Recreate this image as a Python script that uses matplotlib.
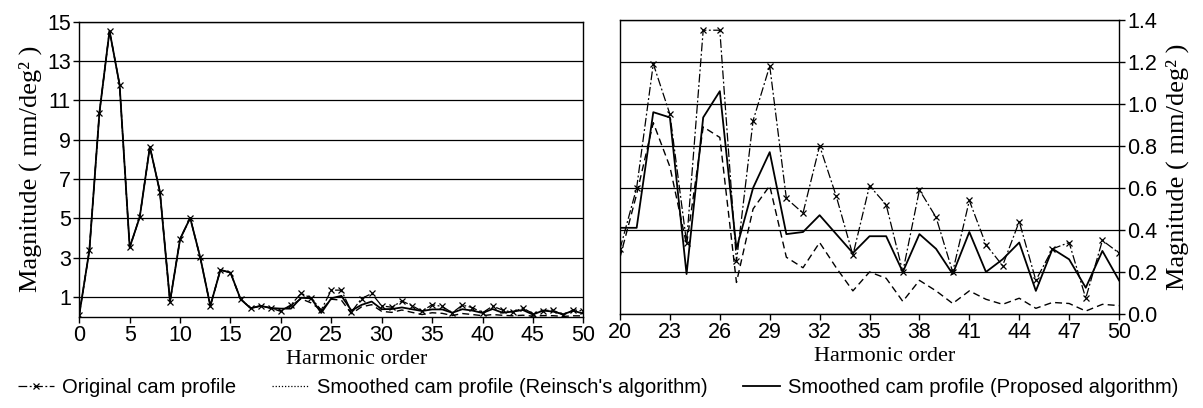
import matplotlib.pyplot as plt
from matplotlib.lines import Line2D

# harmonic orders and magnitudes (mm/deg^2)
harmonics = list(range(0, 51))

original = [0.10, 3.37, 10.38, 14.54, 11.79, 3.52, 5.07, 8.64, 6.35, 0.77,
            3.95, 5.02, 3.01, 0.55, 2.38, 2.24, 0.89, 0.43, 0.55, 0.44,
            0.31, 0.60, 1.19, 0.95, 0.34, 1.35, 1.35, 0.25, 0.92, 1.18,
            0.55, 0.48, 0.80, 0.56, 0.28, 0.61, 0.52, 0.20, 0.59, 0.46,
            0.20, 0.54, 0.33, 0.23, 0.44, 0.16, 0.31, 0.34, 0.075, 0.35,
            0.29]

reinsch = [0.10, 3.37, 10.38, 14.54, 11.79, 3.52, 5.07, 8.64, 6.35, 0.77,
           3.95, 5.02, 3.01, 0.55, 2.38, 2.24, 0.89, 0.43, 0.55, 0.44,
           0.27, 0.57, 0.91, 0.70, 0.33, 0.89, 0.84, 0.15, 0.50, 0.61,
           0.27, 0.22, 0.34, 0.22, 0.11, 0.20, 0.17, 0.06, 0.16, 0.11,
           0.05, 0.11, 0.07, 0.046, 0.075, 0.027, 0.055, 0.05, 0.014, 0.046,
           0.04]

proposed = [0.10, 3.37, 10.38, 14.54, 11.79, 3.52, 5.07, 8.64, 6.35, 0.77,
            3.95, 5.02, 3.01, 0.55, 2.38, 2.24, 0.89, 0.43, 0.55, 0.44,
            0.41, 0.41, 0.96, 0.935, 0.19, 0.935, 1.06, 0.31, 0.60, 0.77,
            0.38, 0.39, 0.47, 0.38, 0.29, 0.37, 0.37, 0.20, 0.38, 0.31,
            0.19, 0.39, 0.20, 0.26, 0.34, 0.11, 0.31, 0.26, 0.125, 0.30,
            0.16]

zoom_start = 20

left_yticks = [1, 3, 5, 7, 9, 11, 13, 15]
left_xticks = [0, 5, 10, 15, 20, 25, 30, 35, 40, 45, 50]
right_yticks = [0.0, 0.2, 0.4, 0.6, 0.8, 1.0, 1.2, 1.4]
right_xticks = [20, 23, 26, 29, 32, 35, 38, 41, 44, 47, 50]

labels = ['Original cam profile',
          "Smoothed cam profile (Reinsch's algorithm)",
          'Smoothed cam profile (Proposed algorithm)']

plt.rcParams['font.family'] = 'Liberation Sans'
serif = 'Liberation Serif'

orig_style = dict(color='black', lw=0.9, ls=(0, (7, 2, 1.5, 2)),
                  marker='x', ms=5, mew=0.9)
rein_style = dict(color='black', lw=1.0, ls=(0, (5, 3)))
prop_style = dict(color='black', lw=1.3, ls='-')

fig = plt.figure(figsize=(12.03, 4.08), dpi=100)
ax1 = fig.add_axes([0.0659, 0.2238, 0.4190, 0.7230])
ax2 = fig.add_axes([0.5154, 0.2304, 0.4148, 0.7213])

# left panel: all harmonics
ax1.plot(harmonics, original, **orig_style)
ax1.plot(harmonics, reinsch, **rein_style)
ax1.plot(harmonics, proposed, **prop_style)
ax1.set_xlim(0, 50)
ax1.set_ylim(0, 15)
ax1.set_xticks(left_xticks)
ax1.set_yticks(left_yticks)
ax1.set_xlabel('Harmonic order', family=serif, fontsize=16, labelpad=3, x=0.55)
ax1.set_ylabel('Magnitude ( mm/deg² )', family=serif, fontsize=19, labelpad=4)

# right panel: zoom on harmonics 20-50
h = harmonics[zoom_start:]
ax2.plot(h, original[zoom_start:], **orig_style)
ax2.plot(h, reinsch[zoom_start:], **rein_style)
ax2.plot(h, proposed[zoom_start:], **prop_style)
ax2.set_xlim(20, 50)
ax2.set_ylim(0, 1.4)
ax2.set_xticks(right_xticks)
ax2.set_yticks(right_yticks)
ax2.set_yticklabels([f'{v:.1f}' for v in right_yticks])
ax2.yaxis.tick_right()
ax2.yaxis.set_label_position('right')
ax2.set_xlabel('Harmonic order', family=serif, fontsize=16, labelpad=3, x=0.53)
ax2.set_ylabel('Magnitude ( mm/deg² )', family=serif, fontsize=19,
               labelpad=6, rotation=90)

for ax in (ax1, ax2):
    ax.yaxis.grid(True, color='black', lw=0.9)
    ax.set_axisbelow(True)
    ax.tick_params(direction='out', length=4, width=1, labelsize=15.5, pad=2)
    for sp in ax.spines.values():
        sp.set_linewidth(1.0)

handles = [Line2D([], [], **orig_style),
           Line2D([], [], color='black', lw=0.9, ls=(0, (1, 1.5))),
           Line2D([], [], **prop_style)]
fig.legend(handles, labels, loc='center', bbox_to_anchor=(0.497, 0.05), ncol=3,
           frameon=False, fontsize=14.5, handlelength=1.8, handletextpad=0.4,
           columnspacing=1.8)

fig.savefig('out.png', dpi=100)
